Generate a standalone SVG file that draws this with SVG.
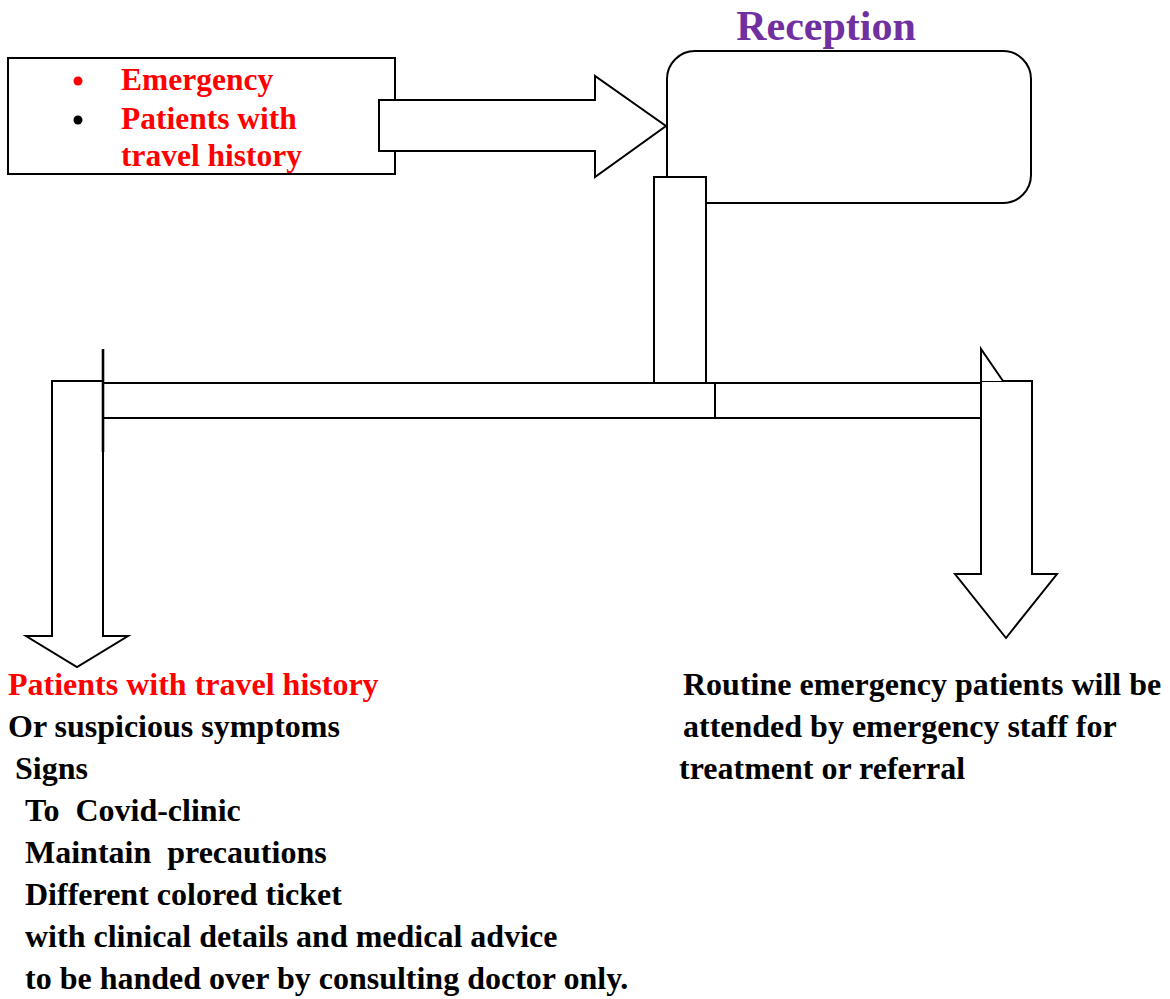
<svg xmlns="http://www.w3.org/2000/svg" width="1170" height="999" viewBox="0 0 1170 999">
<style>
.shape{fill:#fff;stroke:#000;stroke-width:2}
.t{font-family:"Liberation Serif","Times New Roman",serif;font-weight:bold;font-size:31.5px;fill:#000;white-space:pre}
.b{font-size:32px}
.red{fill:#FF0000}
.title{font-family:"Liberation Serif","Times New Roman",serif;font-weight:bold;font-size:42px;fill:#7030A0}
</style>
<rect width="1170" height="999" fill="#fff"/>
<g id="source-box">
<rect class="shape" x="8" y="58" width="387" height="116"/>
<circle cx="78" cy="81" r="4.5" fill="#FF0000"/>
<circle cx="78" cy="120" r="4.5" fill="#000"/>
<text class="t red" x="121" y="90">Emergency</text>
<text class="t red" x="121" y="129">Patients with</text>
<text class="t red" x="121" y="166">travel history</text>
</g>
<g id="connectors">
<polygon class="shape" points="379,100 595,100 595,76 666,126 595,177 595,151 379,151"/>
</g>
<g id="reception">
<text class="title" x="826" y="40" text-anchor="middle">Reception</text>
<rect class="shape" x="667" y="51" width="364" height="152" rx="28" ry="28"/>
</g>
<g id="branches">
<rect class="shape" x="654" y="177" width="52" height="206"/>
<rect class="shape" x="103" y="383" width="612" height="35"/>
<rect class="shape" x="715" y="383" width="266" height="35"/>
<polygon class="shape" points="52,381 103,381 103,636 128,636 77,667 26,636 52,636"/>
<line x1="103" y1="349" x2="103" y2="452" stroke="#000" stroke-width="2.6"/>
<polygon class="shape" points="981,381 1032,381 1032,574 1057,574 1006,638 955,574 981,574"/>
<polyline points="981,381 981,349 1003,381" fill="#fff" stroke="#000" stroke-width="2"/>
</g>
<g id="covid-branch">
<text class="t b red" x="8" y="695">Patients with travel history</text>
<text class="t b" x="8" y="737">Or suspicious symptoms</text>
<text class="t b" x="15" y="779">Signs</text>
<text class="t b" x="25" y="821">To  Covid-clinic</text>
<text class="t b" x="25" y="863">Maintain  precautions</text>
<text class="t b" x="25" y="905">Different colored ticket</text>
<text class="t b" x="25" y="947">with clinical details and medical advice</text>
<text class="t b" x="25" y="989">to be handed over by consulting doctor only.</text>
</g>
<g id="routine-branch">
<text class="t b" x="683" y="695">Routine emergency patients will be</text>
<text class="t b" x="683" y="737">attended by emergency staff for</text>
<text class="t b" x="679" y="779">treatment or referral</text>
</g>
</svg>
